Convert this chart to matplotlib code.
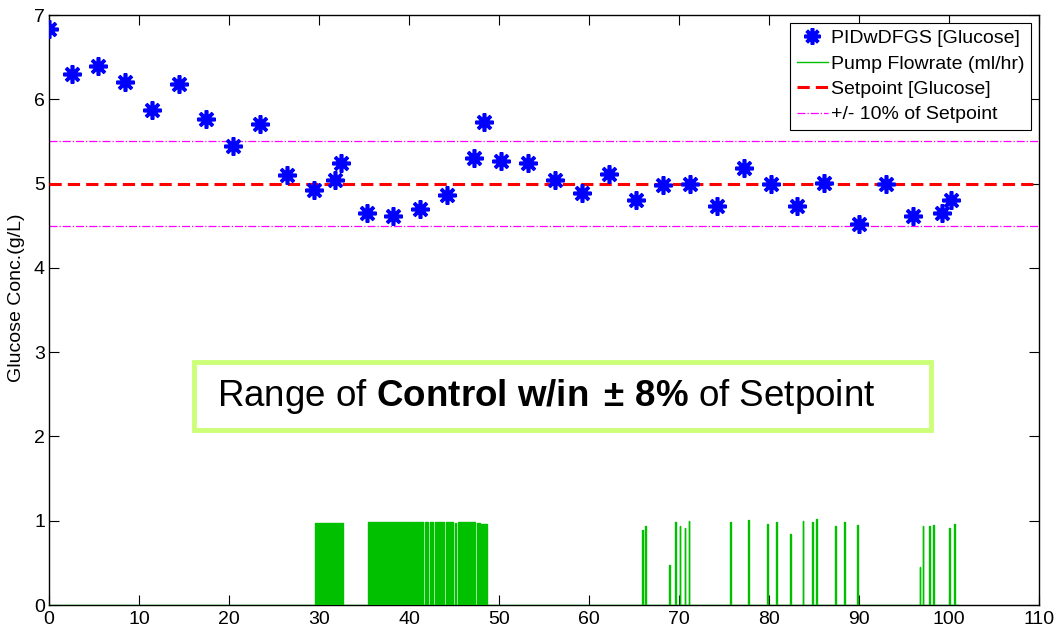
import matplotlib
matplotlib.use("Agg")
import matplotlib.pyplot as plt
from matplotlib.patches import Rectangle

plt.rcParams['font.family'] = ['Liberation Sans', 'DejaVu Sans']
plt.rcParams['mathtext.fontset'] = 'custom'
plt.rcParams['mathtext.rm'] = 'Liberation Sans'
plt.rcParams['mathtext.bf'] = 'Liberation Sans:bold'
plt.rcParams['mathtext.it'] = 'Liberation Sans:italic'

# Glucose measurements (time h, conc g/L)
gluc_t = [0.0, 2.5, 5.4, 8.4, 11.4, 14.4, 17.4, 20.4, 23.4, 26.4, 29.4, 31.8, 32.4,
          35.3, 38.2, 41.2, 44.2, 47.2, 48.3, 50.2, 53.2, 56.2, 59.2, 62.2, 65.2,
          68.2, 71.2, 74.2, 77.2, 80.2, 83.1, 86.1, 90.0, 93.0, 96.0, 99.2, 100.2]
gluc_c = [6.83, 6.30, 6.40, 6.21, 5.87, 6.18, 5.77, 5.45, 5.71, 5.10, 4.93, 5.04, 5.25,
          4.65, 4.62, 4.70, 4.87, 5.30, 5.73, 5.27, 5.25, 5.04, 4.89, 5.12, 4.80,
          4.98, 4.99, 4.74, 5.18, 4.99, 4.73, 5.01, 4.52, 5.00, 4.62, 4.65, 4.81]

# Pump flowrate: dense "on" periods (start, end, level)
pump_on_start = [29.55, 35.48, 40.60, 41.72, 42.28, 42.84, 44.14, 45.06, 45.44, 47.58, 48.02]
pump_on_end   = [32.63, 40.42, 41.52, 42.08, 42.64, 43.94, 44.86, 45.22, 47.28, 47.84, 48.63]
pump_on_level = [0.97, 0.98, 0.99, 0.98, 0.99, 0.99, 0.98, 0.97, 0.98, 0.97, 0.96]

# Pump flowrate: isolated pulses (time, level)
pulse_t = [65.93, 66.27, 68.93, 69.60, 70.08, 70.63, 71.08, 75.70, 77.69, 79.80, 80.80,
           82.35, 83.72, 84.76, 85.20, 87.38, 88.38, 89.79, 96.73, 97.06, 97.80, 98.24,
           99.99, 100.57]
pulse_h = [0.885, 0.94, 0.476, 0.98, 0.94, 0.91, 0.996, 0.99, 1.01, 0.96, 0.98,
           0.84, 1.0, 0.99, 1.02, 0.94, 0.98, 0.95, 0.456, 0.94, 0.94, 0.95,
           0.91, 0.965]
pulse_w = 0.08
pump_end_t = 101.0

setpoint = 5.0
band = 0.10

xticks = list(range(0, 111, 10))
yticks = list(range(0, 8))

# Build pump trace
segs = []
for s, e, h in zip(pump_on_start, pump_on_end, pump_on_level):
    segs.append((s, e, h))
for t, h in zip(pulse_t, pulse_h):
    segs.append((t, t + pulse_w, h))
segs.sort()
px, py = [0.0], [0.0]
for s, e, h in segs:
    px += [s, s, e, e]
    py += [0.0, h, h, 0.0]
px.append(pump_end_t)
py.append(0.0)

fig = plt.figure(figsize=(10.57, 6.33), dpi=100)
ax = fig.add_axes([0.0464, 0.0442, 0.9366, 0.932])

green = '#00c000'
ax.plot(gluc_t, gluc_c, linestyle='none', marker=(8, 2, 0), markersize=13,
        markeredgewidth=2.6, color='#0000ff', label='PIDwDFGS [Glucose]', zorder=5)
ax.fill_between(px, py, 0, color=green, linewidth=0, zorder=3)
ax.plot(px, py, color=green, linewidth=1.0, label='Pump Flowrate (ml/hr)', zorder=3)
ax.axhline(setpoint, color='#ff0000', linestyle=(0, (4, 2)), linewidth=2.2,
           label='Setpoint [Glucose]', zorder=4)
ax.axhline(setpoint * (1 + band), color='#ff00ff', linestyle='-.', linewidth=0.9,
           label='+/- 10% of Setpoint', zorder=2)
ax.axhline(setpoint * (1 - band), color='#ff00ff', linestyle='-.', linewidth=0.9, zorder=2)

ax.set_xlim(0, 110)
ax.set_ylim(0, 7)
ax.set_xticks(xticks)
ax.set_yticks(yticks)
ax.tick_params(direction='in', length=7, width=0.8, top=True, right=True,
               labelsize=14)
ax.tick_params(axis='x', pad=4)
ax.tick_params(axis='y', pad=3)
for sp in ax.spines.values():
    sp.set_linewidth(1.0)
ax.set_ylabel('Glucose Conc.(g/L)', fontsize=14)
ax.yaxis.set_label_coords(-0.024, 0.52)

leg = ax.legend(loc='upper right', fontsize=14, frameon=True, fancybox=False,
                framealpha=1, edgecolor='black', handlelength=1.6,
                handletextpad=0.15, borderpad=0.35, labelspacing=0.4,
                borderaxespad=0.4, markerscale=0.9)
leg.get_frame().set_linewidth(0.8)

# Annotation box
rect = Rectangle((16.1, 2.08), 81.9, 0.8, fill=False, edgecolor='#ccff77',
                 linewidth=3.5, transform=ax.transData, zorder=6)
ax.add_patch(rect)
ax.text(18.7, 2.48, r'Range of $\mathbf{Control\ w/in\;\pm\,8\%}$ of Setpoint',
        fontsize=26.5, va='center', ha='left', zorder=7)

fig.savefig('out.png', dpi=100)
